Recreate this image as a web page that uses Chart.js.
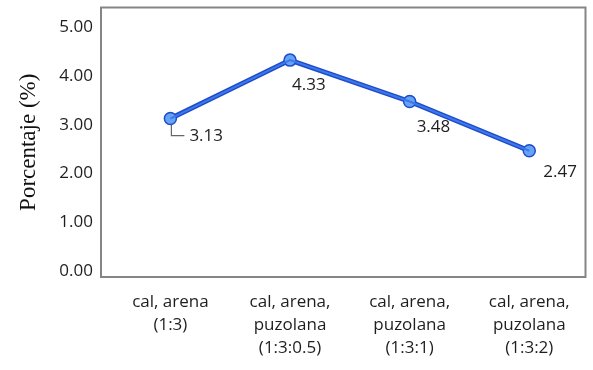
<!DOCTYPE html>
<html>
<head>
<meta charset="utf-8">
<script src="https://cdn.jsdelivr.net/npm/chart.js@4.4.1/dist/chart.umd.min.js"></script>
<style>
  html, body { margin: 0; padding: 0; background: #ffffff; }
  #wrap { width: 593px; height: 370px; position: relative; }
</style>
</head>
<body>
<div id="wrap"><canvas id="c"></canvas></div>
<script>
// Mezclas ensayadas (etiquetas en varias líneas)
const categories = [
  ['cal, arena', '(1:3)'],
  ['cal, arena,', 'puzolana', '(1:3:0.5)'],
  ['cal, arena,', 'puzolana', '(1:3:1)'],
  ['cal, arena,', 'puzolana', '(1:3:2)']
];
// Porcentaje medido para cada mezcla
const porcentaje = [3.13, 4.33, 3.48, 2.47];
// Marcas del eje vertical
const yTicks = [0, 1, 2, 3, 4, 5];

// Desplazamiento (px) de cada etiqueta de valor respecto a su punto
const labelOffsets = [[19, 18], [2, 25], [7, 26], [14, 21]];

const valueLabels = {
  id: 'valueLabels',
  afterDatasetsDraw(chart) {
    const ctx = chart.ctx;
    const meta = chart.getDatasetMeta(0);
    ctx.save();
    ctx.font = '17px "Open Sans", sans-serif';
    ctx.fillStyle = '#1e1e1e';
    ctx.textAlign = 'left';
    ctx.textBaseline = 'middle';
    meta.data.forEach((pt, i) => {
      const [dx, dy] = labelOffsets[i];
      const lx = pt.x + dx, ly = pt.y + dy;
      if (i === 0) {
        // línea guía de la primera etiqueta
        ctx.strokeStyle = '#666666';
        ctx.lineWidth = 1.2;
        ctx.beginPath();
        ctx.moveTo(pt.x + 1, pt.y + 6);
        ctx.lineTo(pt.x + 1, ly - 1);
        ctx.lineTo(lx - 5, ly - 1);
        ctx.stroke();
      }
      ctx.fillText(porcentaje[i].toFixed(2), lx, ly);
    });
    ctx.restore();
  }
};

new Chart(document.getElementById('c'), {
  type: 'line',
  data: {
    datasets: [
      {
        data: porcentaje.map((v, i) => ({ x: i, y: v })),
        borderColor: '#1d4ccb',
        borderWidth: 5,
        pointRadius: 6,
        pointBackgroundColor: '#66a3f5',
        pointBorderColor: '#1d4ccb',
        pointBorderWidth: 1.5,
        tension: 0,
        order: 2
      },
      {
        data: porcentaje.map((v, i) => ({ x: i, y: v })),
        borderColor: '#3d78ea',
        borderWidth: 2,
        pointRadius: 0,
        tension: 0,
        order: 1
      }
    ]
  },
  options: {
    responsive: true,
    maintainAspectRatio: false,
    animation: false,
    events: [],
    layout: { padding: { top: 7, right: 3, left: 0, bottom: 0 } },
    plugins: { legend: { display: false }, tooltip: { enabled: false } },
    scales: {
      x: {
        type: 'linear',
        min: -0.58,
        max: 3.47,
        afterBuildTicks(scale) { scale.ticks = categories.map((_, i) => ({ value: i })); },
        afterFit(scale) {
          scale.height = 93;
          scale.paddingLeft = 0;
          scale.paddingRight = 0;
        },
        grid: { display: false, drawTicks: false },
        border: { display: true, color: '#858585', width: 2 },
        ticks: {
          autoSkip: false,
          maxRotation: 0,
          padding: 14,
          color: '#1e1e1e',
          font: { family: '"Open Sans", sans-serif', size: 17, lineHeight: 1.35 },
          callback: (v) => categories[v]
        }
      },
      y: {
        min: -0.123,
        max: 5.41,
        afterBuildTicks(scale) { scale.ticks = yTicks.map(v => ({ value: v })); },
        afterFit(scale) {
          scale.width = 101;
          scale.paddingTop = 0;
          scale.paddingBottom = 0;
        },
        grid: { display: false, drawTicks: false },
        border: { display: true, color: '#858585', width: 2 },
        ticks: {
          padding: 8,
          color: '#1e1e1e',
          font: { family: '"Open Sans", sans-serif', size: 17 },
          callback: (v) => v.toFixed(2)
        },
        title: {
          display: true,
          text: 'Porcentaje (%)',
          color: '#111111',
          padding: { top: 15, bottom: 0 },
          font: { family: '"Liberation Serif", serif', size: 23 }
        }
      }
    }
  },
  plugins: [
    valueLabels,
    {
      // marco completo del área de trazado
      id: 'frame',
      afterDraw(chart) {
        const { ctx, chartArea: a } = chart;
        ctx.save();
        ctx.strokeStyle = '#858585';
        ctx.lineWidth = 2;
        ctx.strokeRect(a.left, a.top, a.right - a.left, a.bottom - a.top);
        ctx.restore();
      }
    }
  ]
});
</script>
</body>
</html>
